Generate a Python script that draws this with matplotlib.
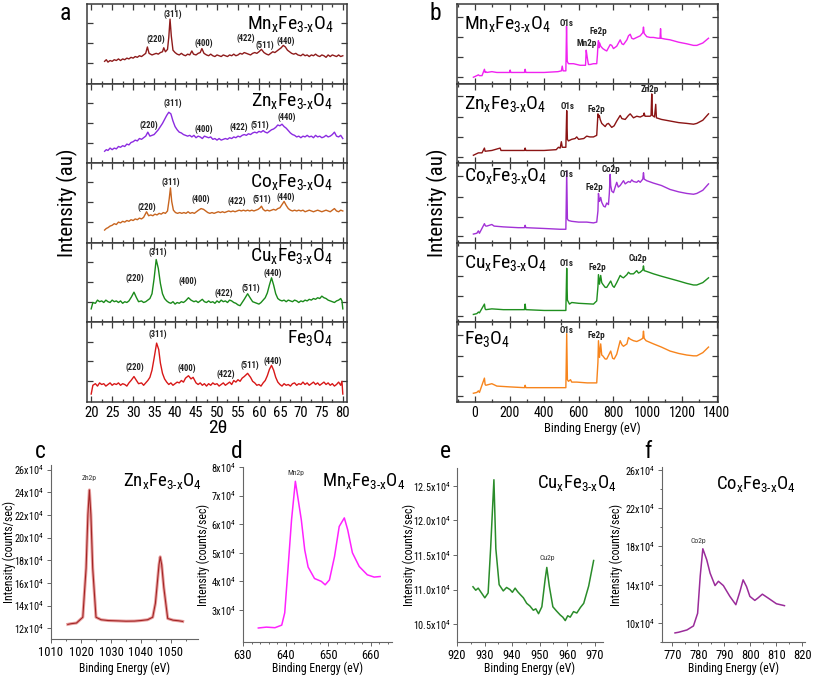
import matplotlib
matplotlib.use("Agg")
import matplotlib.pyplot as plt
from matplotlib import font_manager
from matplotlib.ticker import MultipleLocator, FixedLocator

# ---------------- data ----------------
# panel a: XRD, intensity as fraction of each strip height
xrd_mn = [(23.2,.28),(23.6,.30),(24,.27),(24.5,.29),(25,.28),(25.5,.30),(26,.29),(26.5,.31),(27,.29),(27.5,.31),
          (28,.30),(28.5,.32),(29,.31),(29.5,.33),(30,.32),(30.5,.34),(31,.33),(31.5,.35),(32,.34),(32.5,.36),
          (33,.38),(33.4,.46),(33.8,.38),(34.5,.36),(35,.37),(35.5,.38),(36,.37),(36.5,.39),(37,.40),(37.3,.45),
          (37.7,.40),(38.2,.43),(38.5,.58),(38.8,.81),(39.1,.60),(39.5,.42),(40,.39),(40.5,.37),(41,.36),(41.5,.38),
          (42,.36),(42.5,.35),(43,.37),(43.5,.36),(44,.41),(44.4,.37),(45,.36),(45.5,.38),(46,.39),(46.4,.44),
          (46.9,.38),(47.5,.36),(48,.35),(48.5,.37),(49,.35),(49.5,.34),(50,.36),(50.5,.35),(51,.34),(51.5,.36),
          (52,.35),(52.5,.34),(53,.36),(53.5,.35),(54,.37),(54.5,.35),(55,.36),(55.5,.38),(56,.37),(56.5,.39),
          (57,.38),(57.5,.37),(58,.36),(58.5,.38),(59,.39),(59.5,.38),(60,.40),(60.6,.43),(61.2,.39),(61.8,.37),
          (62.3,.36),(62.8,.38),(63.3,.40),(63.8,.39),(64.3,.41),(64.8,.43),(65.3,.45),(65.8,.48),(66.3,.46),(66.8,.42),
          (67.3,.40),(67.8,.38),(68.3,.37),(68.8,.38),(69.3,.36),(70,.35),(70.5,.37),(71,.35),(71.5,.36),(72,.34),
          (72.5,.36),(73,.35),(73.5,.37),(74,.35),(74.5,.34),(75,.36),(75.5,.35),(76,.33),(76.5,.36),(77,.34),
          (77.5,.36),(78,.35),(78.5,.34),(79,.36),(79.5,.34),(80,.35)]
xrd_zn = [(23.2,.15),(23.6,.17),(24,.16),(24.5,.19),(25,.17),(25.5,.19),(26,.18),(26.5,.21),(27,.20),(27.5,.22),
          (28,.21),(28.5,.24),(29,.23),(29.5,.26),(30,.27),(30.5,.29),(31,.28),(31.5,.31),(32,.30),(32.5,.32),
          (33,.34),(33.5,.39),(34,.34),(34.5,.35),(35,.36),(35.5,.39),(36,.42),(36.5,.46),(37,.50),(37.5,.55),
          (38,.60),(38.5,.64),(39,.62),(39.5,.53),(40,.46),(40.5,.42),(41,.39),(41.5,.38),(42,.36),(42.5,.35),
          (43,.34),(43.5,.35),(44,.33),(44.5,.35),(45,.32),(45.5,.34),(46,.33),(46.5,.31),(47,.34),(47.5,.33),
          (48,.32),(48.5,.33),(49,.30),(49.5,.31),(50,.29),(50.5,.31),(51,.29),(51.5,.30),(52,.31),(52.5,.30),
          (53,.32),(53.5,.31),(54,.33),(54.5,.32),(55,.34),(55.5,.33),(56,.35),(56.5,.36),(57,.35),(57.5,.37),
          (58,.36),(58.5,.38),(59,.39),(59.5,.38),(60,.40),(60.5,.39),(61,.41),(61.5,.39),(62,.38),(62.5,.40),
          (63,.42),(63.5,.43),(64,.45),(64.5,.48),(65,.47),(65.5,.49),(66,.46),(66.5,.44),(67,.41),(67.5,.38),
          (68,.36),(68.5,.35),(69,.33),(69.5,.34),(70,.32),(70.5,.34),(71,.33),(71.5,.35),(72,.33),(72.5,.34),
          (73,.32),(73.5,.35),(74,.33),(74.5,.34),(75,.32),(75.5,.33),(76,.35),(76.5,.33),(77,.34),(77.5,.36),
          (78,.39),(78.5,.34),(79,.33),(79.5,.35),(80,.31)]
xrd_co = [(23.2,.16),(23.6,.18),(24,.19),(24.5,.21),(25,.22),(25.5,.24),(26,.23),(26.5,.26),(27,.25),(27.5,.27),
          (28,.26),(28.5,.28),(29,.27),(29.5,.29),(30,.28),(30.5,.30),(31,.29),(31.5,.31),(32,.30),(32.5,.32),
          (33.2,.39),(33.7,.34),(34.2,.35),(34.7,.34),(35.2,.36),(35.7,.35),(36.2,.37),(36.7,.36),(37.2,.38),(37.7,.37),
          (38.2,.40),(38.6,.55),(38.9,.69),(39.2,.52),(39.6,.41),(40.1,.38),(40.6,.37),(41.1,.38),(41.6,.37),(42.1,.38),
          (42.6,.37),(43.1,.39),(43.6,.37),(44.1,.38),(44.6,.37),(45.1,.39),(45.6,.41),(46.2,.43),(46.8,.42),(47.3,.40),
          (47.8,.38),(48.3,.37),(48.8,.38),(49.3,.37),(49.8,.38),(50.3,.39),(50.8,.38),(51.3,.39),(51.8,.38),(52.3,.39),
          (52.8,.40),(53.3,.39),(53.8,.40),(54.3,.39),(54.8,.40),(55.3,.41),(55.8,.40),(56.3,.41),(56.8,.40),(57.3,.41),
          (57.8,.40),(58.3,.41),(58.8,.40),(59.3,.41),(59.8,.42),(60.3,.44),(60.6,.46),(61,.42),(61.5,.40),(62,.41),
          (62.5,.40),(63,.41),(63.5,.42),(64,.41),(64.5,.43),(65,.44),(65.5,.48),(66,.52),(66.5,.47),(67,.43),
          (67.5,.41),(68,.40),(68.5,.41),(69,.40),(69.5,.41),(70,.40),(70.5,.41),(71,.39),(71.5,.40),(72,.41),
          (72.5,.40),(73,.39),(73.5,.40),(74,.41),(74.5,.40),(75,.39),(75.5,.40),(76,.41),(76.5,.40),(77,.39),
          (77.5,.41),(78,.43),(78.5,.40),(79,.39),(79.5,.41),(80,.40)]
xrd_cu = [(20.0,.17),(20.4,.25),(21,.24),(21.5,.28),(22,.26),(22.5,.27),(23,.25),(23.5,.28),(24,.26),(24.5,.25),
          (25,.28),(25.5,.26),(26,.27),(26.5,.25),(27,.27),(27.5,.24),(28,.26),(28.5,.25),(29,.27),(29.6,.32),
          (30.2,.38),(30.8,.31),(31.3,.26),(32,.27),(32.5,.25),(33,.26),(33.5,.28),(34,.30),(34.5,.36),(35,.55),
          (35.5,.79),(36,.68),(36.5,.49),(37,.36),(37.5,.30),(38,.27),(38.5,.25),(39,.24),(39.5,.26),(40,.23),
          (40.5,.25),(41,.24),(41.5,.26),(42,.25),(42.5,.27),(43.2,.31),(43.8,.28),(44.5,.26),(45,.27),(45.5,.25),
          (46,.27),(46.5,.29),(47,.26),(47.5,.25),(48,.27),(48.5,.25),(49,.26),(49.5,.24),(50,.27),(50.5,.25),
          (51,.28),(51.5,.26),(52,.27),(52.5,.25),(53,.28),(53.5,.27),(54,.25),(54.5,.24),(55,.22),(55.5,.21),
          (56,.25),(56.5,.29),(57.3,.36),(58,.30),(58.5,.26),(59,.25),(59.5,.24),(60,.23),(60.5,.25),(61,.28),
          (61.5,.31),(62,.37),(62.5,.47),(63,.56),(63.5,.47),(64,.36),(64.5,.30),(65,.28),(65.5,.27),(66,.28),
          (66.5,.26),(67,.28),(67.5,.27),(68,.26),(68.5,.28),(69,.27),(69.5,.25),(70,.27),(70.5,.26),(71,.28),
          (71.5,.27),(72,.29),(72.5,.28),(73,.30),(73.5,.29),(74,.31),(74.5,.30),(75,.33),(75.5,.31),(76,.30),
          (76.5,.28),(77,.27),(77.5,.26),(78,.25),(78.5,.27),(79,.28),(79.5,.30),(79.8,.27),(80,.17)]
xrd_fe = [(20.0,.10),(20.4,.21),(21,.23),(21.5,.20),(22,.24),(22.5,.22),(23,.23),(23.5,.20),(24,.22),(24.5,.24),
          (25,.21),(25.5,.23),(26,.22),(26.5,.24),(27,.21),(27.5,.23),(28,.22),(28.5,.20),(29,.24),(29.5,.27),
          (30.2,.32),(30.8,.27),(31.3,.23),(32,.24),(32.5,.21),(33,.24),(33.5,.27),(34,.31),(34.5,.40),(35,.55),
          (35.6,.74),(36.1,.66),(36.5,.49),(37,.36),(37.5,.29),(38,.25),(38.5,.22),(39,.24),(39.5,.21),(40,.23),
          (40.5,.25),(41,.24),(41.5,.27),(42,.25),(42.5,.30),(43.2,.33),(43.8,.29),(44.3,.31),(45,.24),(45.5,.22),
          (46,.24),(46.5,.21),(47,.23),(47.5,.20),(48,.23),(48.5,.21),(49,.24),(49.5,.22),(50,.23),(50.5,.20),
          (51,.22),(51.5,.24),(52,.21),(52.5,.23),(53,.25),(53.5,.22),(54,.27),(54.5,.25),(55,.28),(55.5,.26),
          (56,.30),(56.5,.32),(57.3,.36),(58,.31),(58.5,.26),(59,.24),(59.5,.21),(60,.22),(60.5,.20),(61,.24),
          (61.5,.27),(62,.33),(62.5,.41),(63,.46),(63.5,.40),(64,.31),(64.5,.25),(65,.22),(65.5,.20),(66,.23),
          (66.5,.21),(67,.22),(67.5,.20),(68,.23),(68.5,.24),(69,.21),(69.5,.23),(70,.22),(70.5,.25),(71,.22),
          (71.5,.24),(72,.21),(72.5,.23),(73,.25),(73.5,.22),(74,.24),(74.5,.21),(75,.23),(75.5,.25),(76,.22),
          (76.5,.24),(77,.21),(77.5,.23),(78,.20),(78.5,.22),(79,.25),(79.5,.21),(79.8,.26),(80,.10)]

# hkl label positions (2theta, fraction) per strip
hkl_names = ['(220)', '(311)', '(400)', '(422)', '(511)', '(440)']
hkl_mn = [(35.5,.56),(39.5,.87),(46.8,.50),(56.9,.57),(61.3,.48),(66.4,.53)]
hkl_zn = [(33.8,.47),(39.4,.75),(46.9,.42),(55.1,.45),(60.3,.47),(66.7,.58)]
hkl_co = [(33.2,.45),(38.9,.76),(46.2,.55),(54.8,.52),(60.6,.55),(66.3,.57)]
hkl_cu = [(30.4,.55),(35.9,.88),(43.0,.52),(51.7,.37),(58.1,.43),(63.2,.62)]
hkl_fe = [(30.4,.44),(35.9,.85),(42.9,.42),(52.2,.35),(57.8,.46),(63.4,.51)]

# panel b: XPS survey (binding energy, fraction of strip height)
xps_mn = [(-10,.08),(0,.09),(10,.10),(19,.11),(25,.10),(40,.10),(54,.18),(58,.14),(62,.15),(68,.14),(97,.15),
          (126,.14),(164,.14),(200,.14),(203,.17),(207,.14),(286,.14),(290,.18),(294,.14),(400,.14),(480,.15),
          (500,.16),(505,.22),(510,.16),(526,.16),(530,.72),(534,.28),(541,.25),(570,.25),(609,.23),(640,.23),
          (644,.42),(648,.36),(652,.30),(657,.24),(667,.24),(686,.25),(705,.25),(709,.36),(712,.48),(715,.54),
          (719,.45),(722,.51),(728,.47),(740,.44),(754,.42),(763,.41),(773,.45),(783,.49),(792,.48),(802,.44),
          (821,.47),(841,.55),(851,.50),(860,.49),(880,.55),(889,.60),(899,.62),(908,.57),(918,.56),(937,.58),
          (957,.60),(972,.64),(976,.71),(980,.63),(995,.59),(1014,.58),(1034,.58),(1060,.57),(1072,.57),(1075,.69),
          (1078,.57),(1100,.56),(1130,.55),(1180,.52),(1227,.50),(1266,.48),(1285,.48),(1320,.51),(1353,.57)]
xps_zn = [(-10,.10),(19,.13),(40,.13),(54,.19),(58,.15),(97,.16),(145,.19),(150,.16),(200,.16),(286,.16),
          (290,.19),(294,.16),(400,.16),(470,.17),(483,.20),(493,.19),(500,.27),(505,.20),(526,.20),(531,.66),
          (535,.30),(541,.28),(560,.30),(580,.31),(589,.33),(600,.30),(630,.31),(647,.34),(665,.33),(686,.33),
          (705,.35),(712,.62),(716,.58),(720,.60),(725,.55),(734,.50),(754,.46),(763,.49),(773,.50),(792,.45),
          (806,.47),(821,.53),(841,.60),(851,.56),(870,.55),(889,.60),(899,.62),(918,.57),(937,.59),(957,.58),
          (976,.60),(980,.63),(985,.59),(1014,.59),(1020,.60),(1024,.87),(1028,.60),(1040,.58),(1047,.74),(1051,.57),
          (1080,.55),(1130,.53),(1180,.51),(1227,.50),(1266,.49),(1285,.50),(1320,.54),(1353,.62)]
xps_co = [(-10,.11),(10,.12),(19,.15),(25,.12),(54,.24),(58,.22),(62,.21),(68,.21),(97,.23),(110,.21),
          (164,.20),(250,.19),(286,.19),(290,.22),(294,.19),(400,.18),(493,.17),(526,.17),(531,.90),(535,.30),
          (541,.28),(560,.27),(600,.26),(647,.26),(686,.25),(705,.26),(712,.40),(715,.62),(721,.52),(728,.57),
          (734,.51),(745,.46),(754,.45),(763,.50),(773,.48),(778,.62),(783,.86),(786,.72),(792,.65),(802,.63),
          (812,.70),(821,.76),(830,.70),(841,.72),(860,.78),(870,.74),(889,.77),(899,.76),(908,.79),(918,.77),
          (937,.76),(947,.78),(957,.76),(972,.80),(976,.88),(980,.80),(995,.78),(1034,.75),(1080,.72),(1130,.67),
          (1180,.64),(1227,.62),(1266,.61),(1285,.62),(1320,.66),(1353,.74)]
xps_cu = [(-10,.10),(10,.11),(19,.13),(25,.12),(54,.23),(58,.17),(62,.16),(97,.17),(164,.16),(250,.16),
          (286,.16),(290,.23),(294,.16),(400,.15),(512,.15),(526,.15),(531,.68),(535,.28),(547,.23),(560,.25),
          (600,.24),(686,.23),(705,.27),(712,.45),(715,.60),(721,.48),(728,.59),(734,.50),(740,.48),(754,.44),
          (763,.44),(786,.52),(797,.46),(806,.44),(821,.50),(841,.59),(851,.57),(860,.56),(880,.60),(889,.63),
          (899,.61),(918,.61),(937,.65),(947,.62),(957,.63),(972,.66),(976,.71),(980,.65),(995,.64),(1034,.61),
          (1080,.58),(1130,.55),(1180,.52),(1227,.49),(1266,.47),(1285,.47),(1320,.50),(1353,.56)]
xps_fe = [(-10,.11),(10,.12),(19,.14),(25,.12),(54,.30),(58,.22),(62,.21),(97,.23),(126,.20),(200,.19),
          (286,.18),(290,.21),(294,.18),(400,.18),(512,.18),(526,.18),(531,.86),(535,.28),(541,.26),(553,.28),
          (560,.25),(589,.25),(650,.24),(705,.24),(712,.50),(715,.77),(721,.56),(728,.73),(734,.59),(740,.58),
          (754,.54),(763,.54),(786,.64),(797,.55),(806,.54),(821,.60),(841,.77),(851,.72),(860,.70),(880,.73),
          (889,.81),(899,.79),(918,.77),(937,.76),(957,.78),(972,.80),(976,.89),(980,.80),(991,.77),(1034,.73),
          (1080,.69),(1130,.64),(1180,.61),(1227,.59),(1266,.58),(1285,.58),(1320,.62),(1353,.69)]

# peak labels in panel b: (text, energy, fraction)
peaks_mn = [('O1s', 528, .76), ('Mn2p', 647, .50), ('Fe2p', 715, .66)]
peaks_zn = [('O1s', 535, .71), ('Fe2p', 705, .67), ('Zn2p', 1011, .92)]
peaks_co = [('O1s', 531, .86), ('Fe2p', 690, .69), ('Co2p', 786, .92)]
peaks_cu = [('O1s', 531, .74), ('Fe2p', 711, .69), ('Cu2p', 941, .80)]
peaks_fe = [('O1s', 528, .90), ('Fe2p', 705, .84)]

# panels c-f: high resolution scans, intensity in units of 1e4 counts/sec
zn2p_e = [1015.6,1016.7,1018.5,1020.6,1021.7,1022.3,1022.8,1023.3,1023.9,1025.0,1026.7,1029.0,1032.2,1035.0,
          1037.8,1040.0,1042.2,1043.9,1044.8,1045.3,1046.0,1046.4,1046.9,1047.6,1048.9,1050.7,1052.5,1053.9]
zn2p_i = [12.34,12.40,12.46,12.97,17.3,22.0,24.2,22.0,17.3,12.97,12.75,12.68,12.65,12.62,
          12.63,12.68,12.75,12.97,14.2,15.6,17.6,18.3,17.6,15.6,12.86,12.71,12.66,12.60]
mn2p_e = [633.6,635.5,637.5,639.1,639.8,640.6,641.4,642.3,643.7,644.5,645.3,646.8,648.4,649.3,650.3,
          651.5,652.6,653.8,654.6,655.7,657.3,659.2,660.8,662.2]
mn2p_i = [2.37,2.40,2.38,2.47,2.90,4.50,6.15,7.50,6.15,5.10,4.50,4.10,4.00,3.88,4.05,
          4.87,5.92,6.22,5.80,5.00,4.52,4.23,4.15,4.17]
cu2p_e = [925.8,926.8,927.7,928.9,930.1,931.3,932.2,933.4,934.1,935.3,936.8,938.0,939.2,940.1,941.1,942.0,
          942.9,944.1,945.3,946.5,947.7,948.6,949.6,950.8,952.0,952.6,953.5,954.8,956.1,957.5,958.4,959.3,
          960.2,961.1,962.3,963.5,964.8,966.0,967.8,969.6]
cu2p_i = [11.04,10.99,11.02,10.95,10.88,10.95,11.59,12.59,11.59,11.07,10.98,11.03,11.00,10.96,11.02,10.97,
          10.93,10.88,10.80,10.76,10.70,10.72,10.65,10.75,11.15,11.32,11.05,10.75,10.69,10.63,10.60,10.55,
          10.62,10.60,10.68,10.66,10.74,10.80,11.05,11.42]
co2p_e = [771.0,772.4,775.6,778.1,779.7,780.7,781.7,783.2,784.5,786.4,787.7,789.6,792.1,794.4,796.0,
          797.2,798.5,799.8,801.7,802.9,804.6,806.8,810.0,813.1]
co2p_i = [8.95,9.02,9.26,9.68,11.0,14.9,17.75,16.6,15.2,13.9,14.35,13.9,12.77,11.9,13.3,
          14.5,13.8,12.77,12.35,12.6,13.0,12.6,12.0,11.8]

c_yticks = [12, 14, 16, 18, 20, 22, 24, 26]
d_yticks = [3, 4, 5, 6, 7, 8]
e_yticks = [10.5, 11.0, 11.5, 12.0, 12.5]
f_yticks = [10, 14, 18, 22, 26]

# ---------------- style ----------------
names = {f.name for f in font_manager.fontManager.ttflist}
base = 'Liberation Sans'
for cand in ['Liberation Sans Narrow', 'Roboto Condensed', 'Arial Narrow']:
    if cand in names:
        base = cand
        break
narrow = base != 'Liberation Sans'
plt.rcParams['font.family'] = [base, 'DejaVu Sans']
plt.rcParams['mathtext.default'] = 'regular'
big = 14 if narrow else 12.5

W, H = 817, 678
fig = plt.figure(figsize=(W / 100, H / 100), dpi=100)


def box(l, t, r, b):
    return [l / W, 1 - b / H, (r - l) / W, (b - t) / H]


def ftext(x, y, s, **kw):
    fig.text(x / W, 1 - y / H, s, **kw)


def formula(el):
    # hyphen (U+2010) keeps "3-x" tight, the way the figure sets it
    return el + '$_{x}$Fe$_{3\u2010x}$O$_{4}$'


def unzip(pairs):
    return [p[0] for p in pairs], [p[1] for p in pairs]


edge = '#3a3a3a'
tops = [4, 83.6, 163.2, 242.8, 322.4, 402]
a_name_y = [.75, .78, .77, .83, .80]
b_name_y = [.75, .74, .84, .75, .79]

# ---------------- panel a ----------------
xrd_sets = [(xrd_mn, hkl_mn, formula('Mn'), '#8e1b1b'),
            (xrd_zn, hkl_zn, formula('Zn'), '#8b2be0'),
            (xrd_co, hkl_co, formula('Co'), '#c8651f'),
            (xrd_cu, hkl_cu, formula('Cu'), '#1a8a1a'),
            (xrd_fe, hkl_fe, 'Fe$_{3}$O$_{4}$', '#d81818')]
for i, (curve, hkl, name, col) in enumerate(xrd_sets):
    ax = fig.add_axes(box(87, tops[i], 347, tops[i + 1]))
    x, y = unzip(curve)
    ax.plot(x, y, color=col, lw=1.0)
    for lab, (hx, hy) in zip(hkl_names, hkl):
        ax.text(hx, hy, lab, fontsize=6.2, fontweight='bold', ha='center', va='center', color='#222222')
    ax.text(0.946, a_name_y[i], name, transform=ax.transAxes, fontsize=big, ha='right', va='center')
    ax.set_xlim(19, 81)
    ax.set_ylim(0, 1)
    ax.xaxis.set_major_locator(MultipleLocator(5))
    ax.xaxis.set_minor_locator(MultipleLocator(2.5))
    ax.yaxis.set_major_locator(FixedLocator([0.26, 0.51, 0.76]))
    ax.set_yticklabels([])
    ax.tick_params(which='both', direction='in', top=True, right=True, color=edge, width=0.9)
    ax.tick_params(which='major', length=4)
    ax.tick_params(which='minor', length=2.5)
    for s in ax.spines.values():
        s.set_color(edge)
        s.set_linewidth(1.1)
    if i < 4:
        ax.set_xticklabels([])
    else:
        ax.tick_params(axis='x', labelsize=10.5, pad=3)
ftext(218, 428, '2θ', fontsize=14, ha='center', va='center')
ftext(67, 203, 'Intensity (au)', fontsize=15, rotation=90, ha='center', va='center')
ftext(65, 13, 'a', fontsize=17, ha='center', va='center')

# ---------------- panel b ----------------
xps_sets = [(xps_mn, peaks_mn, formula('Mn'), '#f022f0'),
            (xps_zn, peaks_zn, formula('Zn'), '#8b1414'),
            (xps_co, peaks_co, formula('Co'), '#a232d6'),
            (xps_cu, peaks_cu, formula('Cu'), '#1f8f1f'),
            (xps_fe, peaks_fe, 'Fe$_{3}$O$_{4}$', '#f7841c')]
for i, (curve, peaks, name, col) in enumerate(xps_sets):
    ax = fig.add_axes(box(457, tops[i], 718, tops[i + 1]))
    x, y = unzip(curve)
    ax.plot(x, y, color=col, lw=1.0)
    for lab, px, py in peaks:
        ax.text(px, py, lab, fontsize=6.5, fontweight='bold', ha='center', va='center', color='#222222')
    ax.text(0.025, b_name_y[i], name, transform=ax.transAxes, fontsize=big, ha='left', va='center')
    ax.set_xlim(-105, 1408)
    ax.set_ylim(0, 1)
    ax.xaxis.set_major_locator(MultipleLocator(200))
    ax.xaxis.set_minor_locator(MultipleLocator(100))
    ax.yaxis.set_major_locator(FixedLocator([0.08, 0.33, 0.58, 0.84]))
    ax.set_yticklabels([])
    ax.tick_params(which='both', direction='in', top=True, right=True, color=edge, width=0.9)
    ax.tick_params(which='major', length=4)
    ax.tick_params(which='minor', length=2.5)
    for s in ax.spines.values():
        s.set_color(edge)
        s.set_linewidth(1.1)
    if i < 4:
        ax.set_xticklabels([])
    else:
        ax.tick_params(axis='x', labelsize=10, pad=3)
ftext(592, 428, 'Binding Energy (eV)', fontsize=9, ha='center', va='center')
ftext(437, 203, 'Intensity (au)', fontsize=15, rotation=90, ha='center', va='center')
ftext(435, 13, 'b', fontsize=17, ha='center', va='center')

# ---------------- panels c-f ----------------
small = [
    ('c', box(51, 465, 198, 639), zn2p_e, zn2p_i, (1010, 1059), 10, 5, (11.05, 26.4), c_yticks, None,
     'Zn2p', (1022.8, 25.0), formula('Zn'), (123, 481), (40, 451), 9, '#a32525'),
    ('d', box(243, 467, 392, 642), mn2p_e, mn2p_i, (630, 665), 10, 2, (1.88, 8.0), d_yticks, None,
     'Mn2p', (642.3, 7.7), formula('Mn'), (322, 481), (237, 451), 203, '#ff22ff'),
    ('e', box(457, 468, 603, 642), cu2p_e, cu2p_i, (920, 973), 10, 5, (10.24, 12.76), e_yticks, None,
     'Cu2p', (952.6, 11.42), formula('Cu'), (537, 483), (445, 451), 409, '#2a8c2a'),
    ('f', box(662, 467, 805, 642), co2p_e, co2p_i, (766, 821), 10, 5, (8.0, 26.3), f_yticks, 2,
     'Co2p', (780.0, 18.2), formula('Co'), (716, 484), (648, 451), 616, '#9a2c9a'),
]
for (letter, rect, ex, iy, xl, xmaj, xmin, yl, yt, ymin, plab, ppos, name, npos, lpos, ylx, col) in small:
    ax = fig.add_axes(rect)
    if letter == 'c':
        ax.plot(ex, iy, color='#e8a0a0', lw=2.2)
        ax.plot(ex, iy, color=col, lw=0.8)
    else:
        ax.plot(ex, iy, color=col, lw=1.1)
    ax.text(ppos[0], ppos[1], plab, fontsize=5.5, ha='center', va='bottom', color='#333333')
    ax.set_xlim(*xl)
    ax.set_ylim(*yl)
    ax.xaxis.set_major_locator(MultipleLocator(xmaj))
    ax.xaxis.set_minor_locator(MultipleLocator(xmin))
    ax.yaxis.set_major_locator(FixedLocator(yt))
    fmt = '%.1fx10$^{4}$' if letter == 'e' else '%gx10$^{4}$'
    ax.set_yticklabels([fmt % v for v in yt])
    if ymin:
        ax.yaxis.set_minor_locator(MultipleLocator(ymin))
    for s in ['top', 'right']:
        ax.spines[s].set_visible(False)
    for s in ['left', 'bottom']:
        ax.spines[s].set_color('#666666')
        ax.spines[s].set_linewidth(0.8)
    ax.tick_params(which='both', direction='out', color='#666666', width=0.7, pad=2)
    ax.tick_params(which='major', length=3)
    ax.tick_params(which='minor', length=1.5)
    ax.tick_params(axis='y', labelsize=7.3)
    ax.tick_params(axis='x', labelsize=9)
    rect_mid = 1 - (rect[1] + rect[3] / 2)
    ftext((rect[0] + rect[2] / 2) * W, 668, 'Binding Energy (eV)', fontsize=8.5, ha='center', va='center')
    ftext(ylx, rect_mid * H, 'Intensity (counts/sec)', fontsize=8.5, rotation=90, ha='center', va='center')
    ftext(npos[0], npos[1], name, fontsize=big - 0.5, ha='left', va='center')
    ftext(lpos[0], lpos[1], letter, fontsize=17, ha='center', va='center')

fig.savefig('out.png', dpi=100)
